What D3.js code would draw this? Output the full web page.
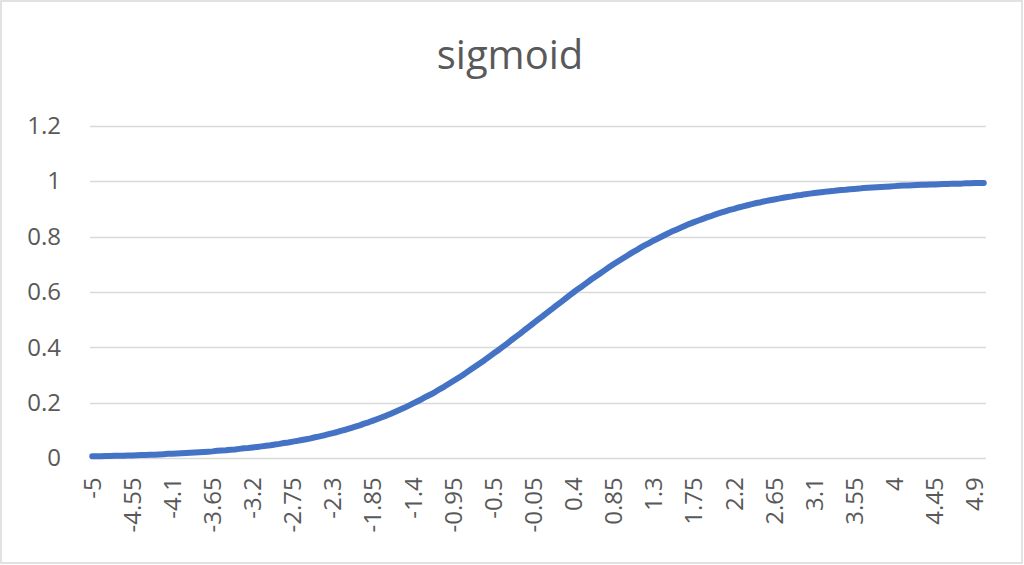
<!DOCTYPE html>
<html>
<head>
<meta charset="utf-8">
<script src="https://cdn.jsdelivr.net/npm/d3@7"></script>
<style>
  html, body { margin: 0; padding: 0; background: #fff; }
  svg { display: block; }
  text { font-family: "Open Sans", "Liberation Sans", sans-serif; fill: #595959; }
</style>
</head>
<body>
<svg id="chart" width="1024" height="565"></svg>
<script>
const title = "sigmoid";

const categories = [
  -5, -4.95, -4.9, -4.85, -4.8, -4.75, -4.7, -4.65, -4.6, -4.55,
  -4.5, -4.45, -4.4, -4.35, -4.3, -4.25, -4.2, -4.15, -4.1, -4.05,
  -4, -3.95, -3.9, -3.85, -3.8, -3.75, -3.7, -3.65, -3.6, -3.55,
  -3.5, -3.45, -3.4, -3.35, -3.3, -3.25, -3.2, -3.15, -3.1, -3.05,
  -3, -2.95, -2.9, -2.85, -2.8, -2.75, -2.7, -2.65, -2.6, -2.55,
  -2.5, -2.45, -2.4, -2.35, -2.3, -2.25, -2.2, -2.15, -2.1, -2.05,
  -2, -1.95, -1.9, -1.85, -1.8, -1.75, -1.7, -1.65, -1.6, -1.55,
  -1.5, -1.45, -1.4, -1.35, -1.3, -1.25, -1.2, -1.15, -1.1, -1.05,
  -1, -0.95, -0.9, -0.85, -0.8, -0.75, -0.7, -0.65, -0.6, -0.55,
  -0.5, -0.45, -0.4, -0.35, -0.3, -0.25, -0.2, -0.15, -0.1, -0.05,
  0, 0.05, 0.1, 0.15, 0.2, 0.25, 0.3, 0.35, 0.4, 0.45,
  0.5, 0.55, 0.6, 0.65, 0.7, 0.75, 0.8, 0.85, 0.9, 0.95,
  1, 1.05, 1.1, 1.15, 1.2, 1.25, 1.3, 1.35, 1.4, 1.45,
  1.5, 1.55, 1.6, 1.65, 1.7, 1.75, 1.8, 1.85, 1.9, 1.95,
  2, 2.05, 2.1, 2.15, 2.2, 2.25, 2.3, 2.35, 2.4, 2.45,
  2.5, 2.55, 2.6, 2.65, 2.7, 2.75, 2.8, 2.85, 2.9, 2.95,
  3, 3.05, 3.1, 3.15, 3.2, 3.25, 3.3, 3.35, 3.4, 3.45,
  3.5, 3.55, 3.6, 3.65, 3.7, 3.75, 3.8, 3.85, 3.9, 3.95,
  4, 4.05, 4.1, 4.15, 4.2, 4.25, 4.3, 4.35, 4.4, 4.45,
  4.5, 4.55, 4.6, 4.65, 4.7, 4.75, 4.8, 4.85, 4.9, 4.95,
  5
];

const sigmoidValues = [
  0.007, 0.007, 0.007, 0.008, 0.008, 0.009, 0.009, 0.009, 0.010, 0.010,
  0.011, 0.012, 0.012, 0.013, 0.013, 0.014, 0.015, 0.016, 0.016, 0.017,
  0.018, 0.019, 0.020, 0.021, 0.022, 0.023, 0.024, 0.025, 0.027, 0.028,
  0.029, 0.031, 0.032, 0.034, 0.036, 0.037, 0.039, 0.041, 0.043, 0.045,
  0.047, 0.050, 0.052, 0.055, 0.057, 0.060, 0.063, 0.066, 0.069, 0.072,
  0.076, 0.079, 0.083, 0.087, 0.091, 0.095, 0.100, 0.104, 0.109, 0.114,
  0.119, 0.125, 0.130, 0.136, 0.142, 0.148, 0.154, 0.161, 0.168, 0.175,
  0.182, 0.190, 0.198, 0.206, 0.214, 0.223, 0.231, 0.240, 0.250, 0.259,
  0.269, 0.279, 0.289, 0.299, 0.310, 0.321, 0.332, 0.343, 0.354, 0.366,
  0.378, 0.389, 0.401, 0.413, 0.426, 0.438, 0.450, 0.463, 0.475, 0.488,
  0.500, 0.512, 0.525, 0.537, 0.550, 0.562, 0.574, 0.587, 0.599, 0.611,
  0.622, 0.634, 0.646, 0.657, 0.668, 0.679, 0.690, 0.701, 0.711, 0.721,
  0.731, 0.741, 0.750, 0.760, 0.769, 0.777, 0.786, 0.794, 0.802, 0.810,
  0.818, 0.825, 0.832, 0.839, 0.846, 0.852, 0.858, 0.864, 0.870, 0.875,
  0.881, 0.886, 0.891, 0.896, 0.900, 0.905, 0.909, 0.913, 0.917, 0.921,
  0.924, 0.928, 0.931, 0.934, 0.937, 0.940, 0.943, 0.945, 0.948, 0.950,
  0.953, 0.955, 0.957, 0.959, 0.961, 0.963, 0.964, 0.966, 0.968, 0.969,
  0.971, 0.972, 0.973, 0.975, 0.976, 0.977, 0.978, 0.979, 0.980, 0.981,
  0.982, 0.983, 0.984, 0.984, 0.985, 0.986, 0.987, 0.987, 0.988, 0.988,
  0.989, 0.990, 0.990, 0.991, 0.991, 0.991, 0.992, 0.992, 0.993, 0.993,
  0.993
];

const yTicks = [0, 0.2, 0.4, 0.6, 0.8, 1, 1.2];
const xLabelInterval = 9;

// ---- layout ----
const plot = { left: 90, right: 986, top: 125.7, bottom: 458.3 };

const svg = d3.select("#chart");

// chart area border
svg.append("rect")
  .attr("x", 1).attr("y", 1)
  .attr("width", 1021).attr("height", 562)
  .attr("fill", "#fff")
  .attr("stroke", "#d9d9d9")
  .attr("stroke-width", 1.5);

const idx = d3.range(categories.length);
const x = d3.scalePoint()
  .domain(idx)
  .range([plot.left, plot.right])
  .padding(0.5);

const y = d3.scaleLinear()
  .domain([0, 1.2])
  .range([plot.bottom, plot.top]);

// gridlines
svg.append("g")
  .selectAll("line")
  .data(yTicks)
  .join("line")
  .attr("x1", plot.left).attr("x2", plot.right)
  .attr("y1", d => Math.round(y(d)) + 0.5)
  .attr("y2", d => Math.round(y(d)) + 0.5)
  .attr("stroke", "#d9d9d9")
  .attr("stroke-width", 1.3);

// y axis labels
const yAxis = d3.axisLeft(y).tickValues(yTicks).tickSize(0).tickPadding(0)
  .tickFormat(d => String(+d.toFixed(1)));
const gy = svg.append("g").attr("transform", `translate(${plot.left - 29},0)`).call(yAxis);
gy.select(".domain").remove();
gy.selectAll("text")
  .attr("font-size", 24)
  .attr("fill", "#595959")
  .attr("font-family", "'Open Sans', sans-serif");

// x axis labels
const xAxis = d3.axisBottom(x)
  .tickValues(idx.filter(i => i % xLabelInterval === 0))
  .tickSize(0).tickPadding(0)
  .tickFormat(i => String(categories[i]));
const gx = svg.append("g").attr("transform", `translate(0,${plot.bottom})`).call(xAxis);
gx.select(".domain").remove();
gx.selectAll("text")
  .attr("font-size", 24)
  .attr("fill", "#595959")
  .attr("font-family", "'Open Sans', sans-serif")
  .attr("text-anchor", "end")
  .attr("dy", "0.33em")
  .attr("y", 0)
  .attr("transform", "translate(0,19) rotate(-90)");

// series line
const line = d3.line()
  .x((d, i) => x(i))
  .y(d => y(d));

svg.append("path")
  .datum(sigmoidValues)
  .attr("d", line)
  .attr("fill", "none")
  .attr("stroke", "#4472C4")
  .attr("stroke-width", 6)
  .attr("stroke-linejoin", "round")
  .attr("stroke-linecap", "round");

// title
svg.append("text")
  .attr("x", 510)
  .attr("y", 69)
  .attr("text-anchor", "middle")
  .attr("font-size", 40)
  .attr("fill", "#595959")
  .text(title);
</script>
</body>
</html>
